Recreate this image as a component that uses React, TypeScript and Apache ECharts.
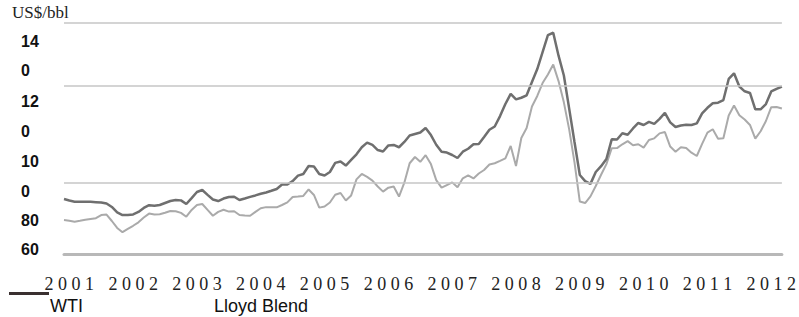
import React, { useEffect, useRef } from "react";
import * as echarts from "echarts";

const years = ["2001","2002","2003","2004","2005","2006","2007","2008","2009","2010","2011","2012"];
const months: string[] = [];
for (let y = 0; y < years.length; y++) {
  for (let m = 1; m <= 12; m++) {
    if (months.length < 136) months.push(years[y] + "-" + String(m).padStart(2, "0"));
  }
}

const wti = [
  33.3, 32.4, 31.7, 31.7, 31.7, 31.6, 31.4, 31.2, 30.6, 28.5, 25.2, 23.6,
  23.6, 24.0, 25.5, 27.9, 29.6, 29.3, 29.7, 30.9, 32.1, 32.7, 32.5, 30.3,
  33.9, 37.6, 38.8, 35.8, 33.0, 32.1, 33.6, 34.5, 34.7, 32.7, 33.6, 34.6,
  35.5, 36.5, 37.3, 38.3, 39.4, 42.1, 42.1, 44.2, 47.5, 48.5, 53.3, 53.0,
  48.5, 47.6, 49.7, 55.2, 56.1, 53.6, 57.0, 60.4, 64.7, 67.5, 66.1, 63.0,
  62.1, 65.8, 66.1, 64.7, 67.9, 71.8, 72.7, 73.6, 76.4, 72.1, 66.2, 61.9,
  61.5, 60.0, 58.2, 62.0, 63.8, 66.5, 66.7, 70.9, 75.3, 77.3, 83.6, 90.9,
  97.0, 93.7, 94.7, 96.2, 104.2, 112.1, 122.4, 132.7, 134.1, 120.2, 108.2, 88.1,
  67.9, 47.9, 44.2, 42.5, 49.7, 53.2, 57.6, 69.5, 69.4, 73.2, 72.3, 76.1,
  79.4, 78.2, 80.1, 78.9, 81.9, 85.5, 79.8, 77.0, 77.9, 78.4, 78.2, 79.2,
  85.2, 88.6, 91.4, 91.7, 93.3, 106.1, 109.5, 101.5, 98.6, 97.6, 87.7, 87.7,
  90.9, 98.5, 100.1, 101.5
];

const lloyd = [
  20.6, 20.2, 19.6, 20.1, 20.7, 21.2, 21.7, 23.6, 23.9, 20.0, 15.8, 13.2,
  15.2, 17.1, 19.2, 22.1, 24.5, 23.9, 24.1, 25.0, 26.1, 25.9, 24.9, 22.6,
  26.7, 29.7, 30.3, 26.7, 23.2, 25.5, 26.8, 25.7, 25.9, 23.6, 23.3, 23.2,
  25.5, 27.7, 28.4, 28.4, 28.3, 29.7, 31.3, 34.5, 34.8, 35.2, 39.1, 35.8,
  28.1, 28.8, 31.2, 35.9, 37.0, 32.4, 35.5, 45.2, 48.5, 46.7, 44.5, 40.9,
  37.8, 40.2, 40.9, 34.8, 43.2, 55.0, 58.8, 55.9, 59.9, 54.5, 44.8, 40.2,
  41.8, 43.4, 40.4, 45.9, 47.6, 45.8, 48.8, 50.9, 54.2, 55.0, 56.4, 57.9,
  65.5, 53.3, 70.3, 76.4, 89.4, 95.8, 103.6, 108.8, 114.8, 104.8, 91.9, 75.5,
  55.5, 31.8, 30.9, 34.9, 41.2, 48.0, 54.5, 64.1, 64.2, 66.5, 68.4, 65.9,
  66.5, 64.5, 69.1, 70.1, 73.1, 73.9, 65.1, 62.0, 64.7, 64.2, 61.4, 59.4,
  66.7, 73.6, 75.6, 69.9, 70.1, 83.9, 90.0, 84.1, 81.5, 78.2, 69.9, 74.4,
  80.6, 89.0, 89.1, 88.2
];

const gridValues = [140, 102, 43];
const yTickLabels = ["14", "0", "12", "0", "10", "0", "80", "60"];
const yTickCenters = [41, 70, 101, 131, 161, 191, 220, 249];

export default function App() {
  const ref = useRef<HTMLDivElement>(null);
  useEffect(() => {
    if (!ref.current) return;
    const chart = echarts.init(ref.current, null, { renderer: "svg" });
    const graphics: any[] = [
      {
        type: "text", left: 12, top: 4,
        style: { text: "US$/bbl", font: '17px "Liberation Serif"', fill: "#222" },
      },
      ...yTickLabels.map((t, i) => ({
        type: "text", x: 21, y: yTickCenters[i],
        style: {
          text: t, font: 'bold 16px "Liberation Sans"', fill: "#111",
          verticalAlign: "middle",
        },
      })),
      {
        type: "line", shape: { x1: 9, y1: 293.5, x2: 49, y2: 293.5 },
        style: { stroke: "#3a3030", lineWidth: 3 },
      },
      {
        type: "text", x: 50, y: 306,
        style: { text: "WTI", font: '18px "Liberation Sans"', fill: "#111", verticalAlign: "middle" },
      },
      {
        type: "text", x: 214, y: 306,
        style: { text: "Lloyd Blend", font: '18px "Liberation Sans"', fill: "#111", verticalAlign: "middle" },
      },
    ];
    chart.setOption({
      animation: false,
      grid: { left: 64, right: 12, top: 23, bottom: 63 },
      xAxis: {
        type: "category",
        data: months,
        boundaryGap: false,
        axisLine: { show: true, lineStyle: { color: "#b8b8b8", width: 3 } },
        axisTick: { show: false },
        splitLine: { show: false },
        axisLabel: {
          interval: (i: number) => i % 12 === 1,
          formatter: (v: string) => v.slice(0, 4).split("").join(" "),
          fontFamily: "Liberation Serif",
          fontSize: 18,
          color: "#222",
          margin: 21,
        },
      },
      yAxis: {
        type: "value",
        min: 0,
        max: 140,
        axisLine: { show: false },
        axisTick: { show: false },
        axisLabel: { show: false },
        splitLine: { show: false },
      },
      series: [
        {
          name: "Lloyd Blend",
          type: "line",
          data: lloyd,
          symbol: "none",
          lineStyle: { color: "#aaaaaa", width: 2 },
          markLine: {
            silent: true,
            symbol: "none",
            label: { show: false },
            lineStyle: { color: "#c6c6c6", width: 1.5, type: "solid" },
            data: gridValues.map((v) => ({ yAxis: v })),
          },
          z: 2,
        },
        {
          name: "WTI",
          type: "line",
          data: wti,
          symbol: "none",
          lineStyle: { color: "#6f6f6f", width: 2.5 },
          z: 3,
        },
      ],
      graphic: graphics,
    });
    return () => chart.dispose();
  }, []);
  return (
    <div
      ref={ref}
      style={{ position: "fixed", left: 0, top: 0, width: 799, height: 317, background: "#fff" }}
    />
  );
}
